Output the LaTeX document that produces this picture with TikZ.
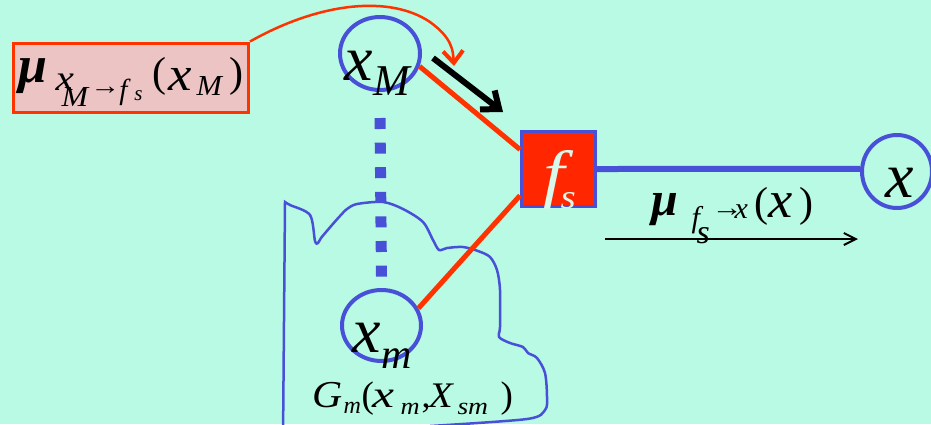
\documentclass[tikz,border=0pt]{standalone}
\usepackage{fontspec}
\usepackage{graphicx}
\setmainfont{Liberation Serif}
\usetikzlibrary{arrows.meta,calc,shapes.geometric}
\definecolor{bgmint}{RGB}{185,250,228}
\definecolor{nodeblue}{RGB}{72,80,216}
\definecolor{msgred}{RGB}{255,51,0}
\definecolor{boxpink}{RGB}{236,196,196}
\definecolor{factred}{RGB}{255,38,0}
\definecolor{lightmint}{RGB}{215,248,235}
\newcommand\fz[1]{\fontsize{#1}{#1}\selectfont}
% piece: x offset, vertical raise, font size, horizontal scale, content
\newcommand\pc[5]{\rlap{\hspace{#1pt}\raisebox{#2pt}{\scalebox{#4}[1]{\fz{#3}#5}}}}
\begin{document}
\begin{tikzpicture}[x=1pt,y=-1pt,
  varnode/.style={ellipse, draw=nodeblue, line width=4pt, inner sep=0pt},
  lbl/.style={anchor=base west, inner sep=0pt, outer sep=0pt},
  edgered/.style={msgred, line width=5pt},
  edgeblue/.style={nodeblue, line width=6pt},
  blob/.style={nodeblue, line width=2.5pt},
  dotline/.style={nodeblue, line width=11pt, dash pattern=on 11pt off 13.6pt},
  bigarrow/.style={black, line width=6pt, -{Straight Barb[length=15pt,width=24pt]}},
  msgarrow/.style={black, line width=2.8pt, -{Straight Barb[length=12pt,width=12pt,line width=2pt]}},
  curvearrow/.style={msgred, line width=2.5pt, -{Straight Barb[length=12pt,width=20pt,line width=4pt]}}
]
\fill[bgmint] (0,0) rectangle (931,424);
\useasboundingbox (0,0) rectangle (931,424);
\begin{scope}
\clip (0,0) rectangle (931,424);
\draw[blob] (283,440) -- plot[smooth, tension=0.5] coordinates {
 (285,202) (290,205) (310,215) (315,241) (318,243) (321,238) (332,225) (340,216)
 (347,209) (357,204) (383,202) (403,209) (423,222) (433,240) (439,250) (447,248)
 (463,247) (478,251) (490,257) (497,270) (500,290) (500,327) (499,337) (510,343)
 (523,347) (528,353) (537,358) (545,373) (547,397) (545,410) (527,419) (430,426)};
\end{scope}

% message box
\node[draw=msgred, fill=boxpink, line width=3pt, minimum width=235pt, minimum height=69pt, inner sep=0pt] (mubox) at (131,77.5) {};
\node[lbl] (mulbl) at (0,82) {\pc{18}{0}{52}{1}{\bfseries\itshape μ}\pc{55}{-8}{36}{1.15}{\itshape x}\pc{61}{-24}{29}{1.1}{\itshape M}\pc{90}{-12}{26}{1.15}{→}\pc{119}{-17}{29}{1}{\itshape f}\pc{134}{-18}{21}{1}{\itshape s}\pc{152}{-4}{42}{1}{(}\pc{168}{-8}{48}{1.1}{\itshape x}\pc{196}{-13}{29}{1.05}{\itshape M}\pc{229}{-4}{42}{1}{)}};

% variable nodes
\node[varnode, minimum width=80pt, minimum height=73pt] (xM) at (380,53.5) {};
\node[varnode, minimum width=79pt, minimum height=71pt] (xm) at (381.5,325.5) {};
\node[varnode, minimum width=70pt, minimum height=73pt] (xr) at (897,171.5) {};
\node[lbl] (xMlbl) at (344,80) {\fz{64}\itshape x\hspace{1pt}\raisebox{-15pt}{\fz{44}\itshape M}};
\node[lbl] (xmlbl) at (352,352) {\fz{64}\itshape x\hspace{1pt}\raisebox{-16pt}{\fz{42}\itshape m}};
\node[lbl] (xrlbl) at (885,197) {\fz{64}\itshape x};

% factor node
\node[draw=nodeblue, fill=factred, line width=3pt, minimum width=74pt, minimum height=75pt, inner sep=0pt] (fs) at (558.5,169) {};
\node[lbl, text=lightmint] (fslbl) at (0,195) {\pc{543}{0}{64}{1.2}{\itshape f}\pc{560}{-13}{34}{1.15}{\itshape s}};

% edges
\draw[edgered] (xM.342) -- ($(fs.north west)!0.25!(fs.south west)$);
\draw[edgered] (xm.25) -- ($(fs.north west)!0.84!(fs.south west)$);
\draw[edgeblue] (fs.east) -- (xr.176);
\draw[dotline] ($(xM.south)+(0,26)$) -- ($(xm.north)+(0,-11)$);

% big black arrow along x_M -> f_s
\coordinate (ka) at (433,58);
\coordinate (kb) at (503,112);
\draw[bigarrow] (ka) -- (kb);

% red curved pointer from box
\coordinate (redtip) at (454,66);
\draw[curvearrow] (mubox.north east) .. controls (320,2) and (390,-5) .. (430,22) .. controls (452,38) and (453,50) .. (redtip);

% message f_s -> x
\node[lbl] (mulbl2) at (0,215) {\pc{651}{0}{48}{1}{\bfseries\itshape μ}\pc{691}{-12}{30}{1}{\itshape f}\pc{696}{-28}{34}{1}{\itshape s}\pc{711}{-1}{26}{1.2}{→}\pc{734}{-3}{30}{1}{\itshape x}\pc{754}{-1}{42}{1}{(}\pc{768}{-2}{52}{1.05}{\itshape x}\pc{799}{-1}{42}{1}{)}};
\coordinate (ma) at (605,239);
\coordinate (mb) at (858,239);
\draw[msgarrow] (ma) -- (mb);

% subgraph label
\node[lbl] (glbl) at (0,406) {\pc{312}{-1}{38}{1.1}{\itshape G}\pc{343}{-7}{24}{1}{\itshape m}\pc{361}{-1}{37}{1}{(}\pc{372}{-1}{38}{1.3}{\itshape x}\pc{400}{-8}{24}{1.1}{\itshape m}\pc{421}{-1}{36}{1}{,}\pc{428}{-1}{36}{1.1}{\itshape X}\pc{457}{-8}{24}{1.15}{\itshape sm}\pc{500}{-1}{37}{1}{)}};
\end{tikzpicture}
\end{document}
